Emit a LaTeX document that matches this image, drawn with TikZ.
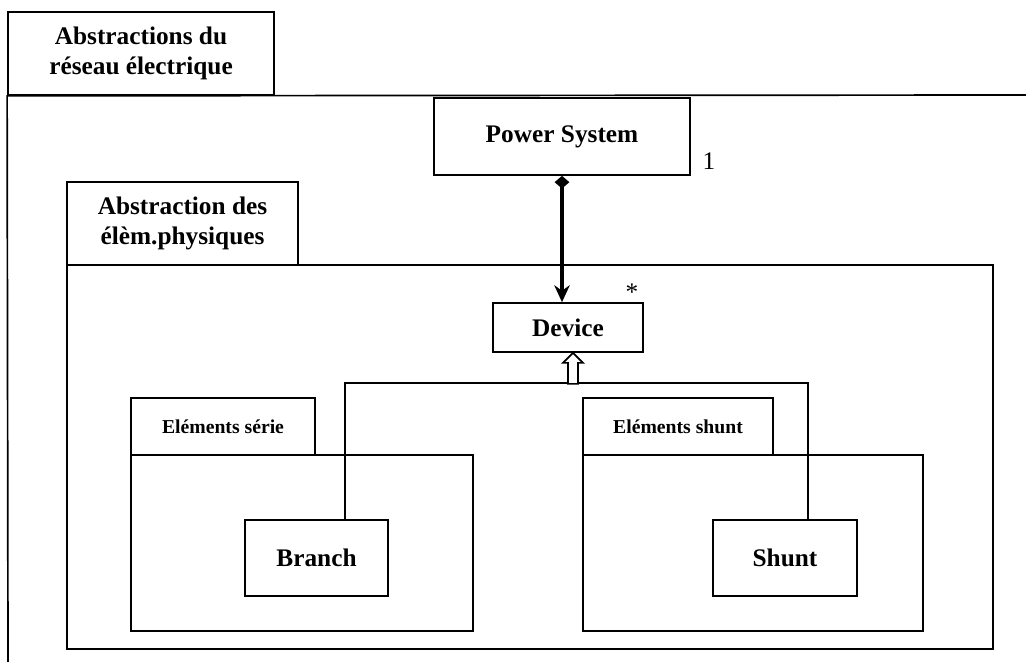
\documentclass[tikz,border=0pt]{standalone}
\usepackage{fontspec}
\setmainfont{Liberation Serif}
\usetikzlibrary{arrows.meta}

\begin{document}
\begin{tikzpicture}[x=0.025cm, y=-0.025cm,
  box/.style={draw, line width=1.2pt, fill=white, inner sep=0pt, align=center,
              font=\fontsize{18}{21}\selectfont\bfseries},
  tab/.style={draw, line width=1.2pt, inner sep=0pt, align=center,
              font=\fontsize{18}{21}\selectfont\bfseries},
  smalltab/.style={tab, font=\fontsize{14}{16}\selectfont\bfseries},
  body/.style={draw, line width=1.2pt, inner sep=0pt},
  link/.style={draw, line width=1.2pt},
  composes/.style={{Diamond[length=9pt,width=10.5pt]}-{Stealth[length=12pt,width=11pt]}, line width=3pt},
  mult/.style={inner sep=0pt, font=\fontsize{18}{21}\selectfont},
]
\useasboundingbox (0,0) rectangle (1026,662);

\node[tab, minimum width=6.65cm, minimum height=2.075cm] (outertab) at (141,53.5) {Abstractions du\\réseau électrique};
\draw[link] (8,662) -- (outertab.south west) -- (1030,95);

\node[box, minimum width=6.4cm, minimum height=1.925cm] (power) at (562,136.5) {Power System};
\node[mult] (one) at (709,161) {1};

\node[tab, minimum width=5.775cm, minimum height=2.075cm] (phystab) at (182.5,223.5) {Abstraction des\\élèm.physiques};
\node[body, minimum width=23.15cm, minimum height=9.6cm] (physbody) at (530,457) {};

\node[box, minimum width=3.75cm, minimum height=1.225cm] (dev) at (568,327.5) {Device};
\node[mult] (many) at (632,292) {*};

\node[smalltab, minimum width=4.6cm, minimum height=1.425cm] (serietab) at (223,426.5) {Eléments série};
\node[body, minimum width=8.55cm, minimum height=4.4cm] (seriebody) at (302,543) {};
\node[smalltab, minimum width=4.75cm, minimum height=1.425cm] (shunttab) at (678,426.5) {Eléments shunt};
\node[body, minimum width=8.5cm, minimum height=4.4cm] (shuntbody) at (753,543) {};

\coordinate (forkL) at (345,383);
\coordinate (forkR) at (808,383);
\coordinate (forkM) at (573,383);
\draw[link] (forkL |- 0,520) -- (forkL) -- (forkR) -- (forkR |- 0,520);

\node[box, minimum width=3.575cm, minimum height=1.9cm] (branch) at (316.5,558) {Branch};
\node[box, minimum width=3.6cm, minimum height=1.9cm] (shunt) at (785,558) {Shunt};
\draw[link] (branch.north -| forkL) -- (forkL);
\draw[link] (shunt.north -| forkR) -- (forkR);

\draw[link, fill=white] (dev.south -| forkM) -- ++(10,10) -- ++(-5,0) -- ++(0,21) -- ++(-10,0)
  -- ++(0,-21) -- ++(-5,0) -- cycle;
\draw[composes] (power.south) -- (power.south |- dev.north);

\end{tikzpicture}
\end{document}
